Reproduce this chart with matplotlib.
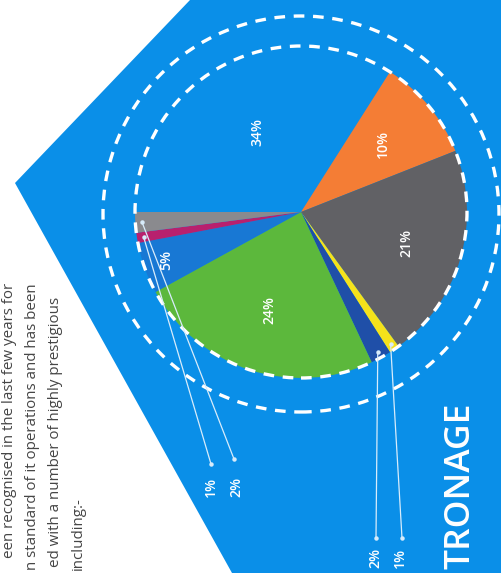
import numpy as np
import matplotlib
matplotlib.use("Agg")
import matplotlib.pyplot as plt
import matplotlib.patches as patches

# slice shares, clockwise from the left (9 o'clock)
shares = [34, 10, 21, 1, 2, 24, 5, 1, 2]
colors = ['#0a8fe8', '#f47d35', '#616165', '#f5e21b', '#1f4fa8',
          '#5cb83c', '#1878d4', '#b8206e', '#8a8a8e']
inside = [0, 1, 2, 5, 6]          # slices labelled inside the pie
inside_dist = [0.55, 0.64, 0.66, 0.62, 0.86]
outside = [7, 8, 4, 3]            # slices with leader lines
outside_pos = [(211, 487), (236, 487), (375, 558), (400, 558)]
outside_dot = [(211, 464), (234, 459), (376, 538), (402, 538)]

text_lines = ["een recognised in the last few years for",
              "n standard of it operations and has been",
              "ed with a number of highly prestigious",
              "including:-"]

W, H = 501, 573
fig = plt.figure(figsize=(W / 100, H / 100), dpi=100)
ax = fig.add_axes([0, 0, 1, 1])

def py(y):
    return H - y

# blue background shape
bg = patches.Polygon([(190, py(0)), (15, py(183)), (232, py(573)),
                      (W, py(573)), (W, py(0))], closed=True,
                     facecolor='#0a8fe8', edgecolor='none', zorder=0)
ax.add_patch(bg)

cx, cy, r = 301, py(212), 166
wedges, _ = ax.pie(shares, colors=colors, startangle=180, counterclock=False,
                   center=(cx, cy), radius=r, frame=True,
                   wedgeprops=dict(linewidth=0))
ax.set_xlim(0, W)
ax.set_ylim(0, H)
ax.set_aspect('equal')
ax.axis('off')

# dashed rings
ax.add_patch(patches.Circle((cx, cy), r, fill=False, ec='white', lw=2.4,
                            ls=(0, (3.2, 2.6)), zorder=3))
ax.add_patch(patches.Circle((cx, py(214)), 198, fill=False, ec='white', lw=2.4,
                            ls=(0, (3.2, 2.6)), zorder=3))

def mid(i):
    w = wedges[i]
    return np.deg2rad((w.theta1 + w.theta2) / 2)

for i, d in zip(inside, inside_dist):
    a = mid(i)
    ax.text(cx + d * r * np.cos(a), cy + d * r * np.sin(a), f"{shares[i]}%",
            rotation=90, color='white', fontsize=10, family='Open Sans',
            weight='semibold', ha='center', va='center', zorder=5)

for i, lp, dp in zip(outside, outside_pos, outside_dot):
    a = mid(i)
    sx, sy = cx + 0.96 * r * np.cos(a), cy + 0.96 * r * np.sin(a)
    ax.plot([sx, dp[0]], [sy, py(dp[1])], color='#d8ecfb', lw=0.9, zorder=4)
    ax.plot([sx, dp[0]], [sy, py(dp[1])], 'o', color='#d8ecfb', ms=2.2, zorder=4)
    ax.text(lp[0], py(lp[1]), f"{shares[i]}%", rotation=90, color='white',
            fontsize=10, family='Open Sans', weight='semibold',
            ha='center', va='center', zorder=5)

# body copy on the left (runs off the page)
for x, top, s in zip([10, 33, 56, 78], [283, 283, 297, 497], text_lines):
    ax.text(x, py(top), s, rotation=90, rotation_mode='anchor', ha='right',
            va='center', color='#454545', fontsize=10.9, family='Open Sans',
            clip_on=True, zorder=2)

ax.text(461, py(403), "TRONAGE", rotation=90, rotation_mode='anchor',
        ha='right', va='center', color='white', fontsize=25.5,
        family='Open Sans', weight='semibold', clip_on=True)

fig.savefig("out.png", dpi=100, facecolor='white')
